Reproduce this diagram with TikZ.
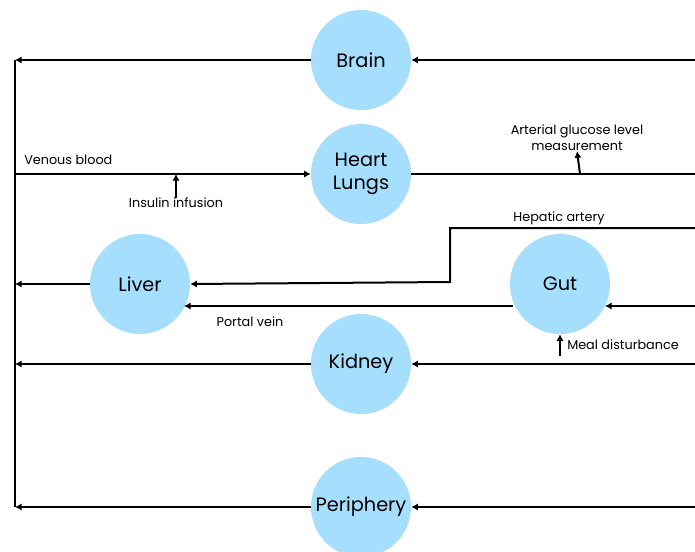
\documentclass[tikz,border=0pt]{standalone}
\usepackage{fontspec}
\setmainfont{Poppins}
\usetikzlibrary{arrows.meta}
\definecolor{organblue}{RGB}{166,222,254}
\tikzstyle{organ} = [circle, minimum size=75pt, inner sep=0, fill=organblue, font=\fontsize{14.5}{17}\selectfont, align=center]
\tikzstyle{flow} = [line width=1.5pt, -{Latex[length=5pt,width=5.5pt]}]
\tikzstyle{line} = [line width=1.5pt]
\tikzstyle{lbl} = [font=\fontsize{9.6}{12}\selectfont, inner sep=0, align=center]

\begin{document}
\begin{tikzpicture}[x=0.75pt,y=-0.75pt]
\useasboundingbox (0,0) rectangle (695,552);
\clip (0,0) rectangle (695,552);

% organs
\node[organ] (brain) at (361,60) {Brain};
\node[organ] (heart) at (361,174) {Heart\\Lungs};
\node[organ] (liver) at (140,284) {Liver};
\node[organ] (gut) at (560,284) {Gut};
\node[organ] (kidney) at (361,364) {Kidney};
\node[organ] (periph) at (361,507) {Periphery};

% venous return
\coordinate (vtop) at (15,60);
\coordinate (vbot) at (15,507);
\draw[line] (vtop) -- (vbot);
\draw[flow] (brain.west) -- (vtop);
\draw[flow] (liver.west) -- (15,284);
\draw[flow] (kidney.west) -- (15,364);
\draw[flow] (periph.west) -- (vbot);
\draw[flow] (15,174) -- (heart.west);
\node[lbl, anchor=west] (venous) at (24,160) {Venous blood};

% insulin
\node[lbl] (insulin) at (176,203) {Insulin infusion};
\draw[flow] (insulin.north) -- (176,174);

% arterial side
\coordinate (aout) at (695,174);
\draw[line] (heart.east) -- (aout);
\node[lbl] (meas) at (577,138) {Arterial glucose level\\measurement};
\draw[flow] (580,174) -- (meas.south);
\draw[flow] (695,60) -- (brain.east);
\draw[flow] (695,364) -- (kidney.east);
\draw[flow] (695,507) -- (periph.east);

% hepatic artery and portal vein
\draw[flow] (695,228) -- (450,228) -- (450,282) -- (liver.east);
\node[lbl] (hepatic) at (559,218) {Hepatic artery};
\draw[flow] (695,306) -- (605,306);
\draw[flow] (513,306) -- (184,306);
\node[lbl] (portal) at (250,322) {Portal vein};

% meal
\node[lbl, anchor=west] (meal) at (567,345) {Meal disturbance};
\draw[flow] (560,356) -- (gut.south);
\end{tikzpicture}
\end{document}
